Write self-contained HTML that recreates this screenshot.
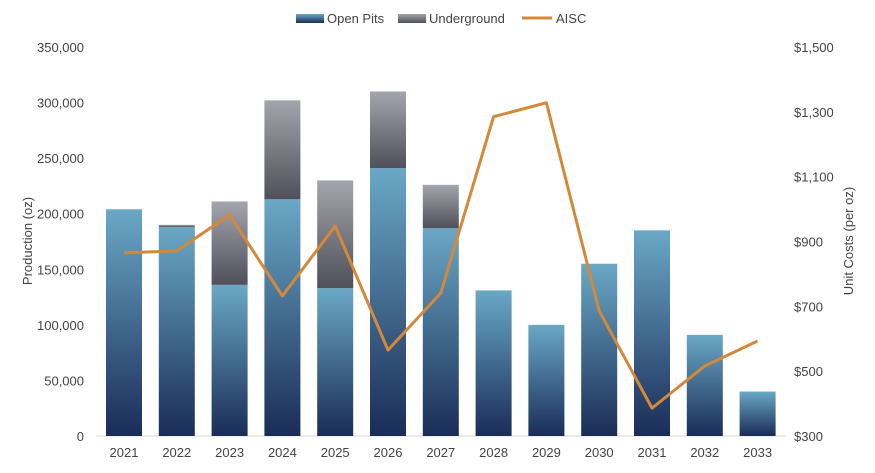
<!DOCTYPE html>
<html><head><meta charset="utf-8"><style>
body{margin:0;background:#fff;font-family:"Liberation Sans",sans-serif;}
svg text{font-family:"Liberation Sans",sans-serif;fill:#444;font-size:13px;}
</style></head><body>
<svg id="chart" width="875" height="468">
<defs>
<linearGradient id="gOpen" x1="0" y1="0" x2="0" y2="1"><stop offset="0" stop-color="#6aa8c6"/><stop offset="1" stop-color="#1a2c58"/></linearGradient>
<linearGradient id="gUnder" x1="0" y1="0" x2="0" y2="1"><stop offset="0" stop-color="#a4a4ac"/><stop offset="1" stop-color="#50505a"/></linearGradient>
</defs>
<g id="legend">
<rect x="296" y="14" width="28" height="9" fill="url(#gOpen)"/>
<text x="327" y="23">Open Pits</text>
<rect x="398" y="14" width="28" height="9" fill="url(#gUnder)"/>
<text x="429" y="23">Underground</text>
<line x1="522" y1="18" x2="552" y2="18" stroke="#d4893a" stroke-width="3"/>
<text x="556" y="23">AISC</text>
</g>
<text transform="translate(32,241) rotate(-90)" text-anchor="middle">Production (oz)</text>
<text transform="translate(853,241) rotate(-90)" text-anchor="middle">Unit Costs (per oz)</text>
<g id="axes"></g><g id="bars"></g><g id="line"></g>
</svg>
<script>
const years=["2021","2022","2023","2024","2025","2026","2027","2028","2029","2030","2031","2032","2033"];
const openPits=[204000,188000,136000,213000,133000,241000,187000,131000,100000,155000,185000,91000,40000];
const underground=[0,2000,75000,89000,97000,69000,39000,0,0,0,0,0,0];
const aisc=[865,871,982,732,948,565,741,1285,1328,686,386,516,593];
const leftTicks=[0,50000,100000,150000,200000,250000,300000,350000];
const rightTicks=[300,500,700,900,1100,1300,1500];
const NS="http://www.w3.org/2000/svg";
const y0=436,yTop=47,x0=124,step=52.8,bw=36;
const yL=v=>y0-(v/350000)*(y0-yTop);
const yR=v=>y0-((v-300)/1200)*(y0-yTop);
const xC=i=>x0+i*step;
function mk(tag,attrs,parent){const e=document.createElementNS(NS,tag);for(const k in attrs)e.setAttribute(k,attrs[k]);parent.appendChild(e);return e;}
const axes=document.getElementById('axes'),bars=document.getElementById('bars'),line=document.getElementById('line');
leftTicks.forEach(v=>{const t=mk('text',{x:84,y:yL(v)+5,'text-anchor':'end'},axes);t.textContent=v.toLocaleString('en-US');

});
rightTicks.forEach(v=>{const t=mk('text',{x:794,y:yR(v)+5,'text-anchor':'start'},axes);t.textContent='$'+v.toLocaleString('en-US');

});
const base=mk('line',{x1:96,x2:786,y1:y0,y2:y0,stroke:'#d9d9d9'},axes);


years.forEach((yr,i)=>{
const t=mk('text',{x:xC(i),y:457,'text-anchor':'middle'},axes);t.textContent=yr;


const o=mk('rect',{x:xC(i)-bw/2,y:yL(openPits[i]),width:bw,height:y0-yL(openPits[i]),fill:'url(#gOpen)'},bars);


if(underground[i]>0){const top=openPits[i]+underground[i];
const u=mk('rect',{x:xC(i)-bw/2,y:yL(top),width:bw,height:yL(openPits[i])-yL(top),fill:'url(#gUnder)'},bars);

}
});
const pts=aisc.map((v,i)=>xC(i)+','+yR(v)).join(' ');
const pl=mk('polyline',{points:pts,fill:'none',stroke:'#d4893a','stroke-width':3,'stroke-linejoin':'round'},line);


</script>
</body></html>
